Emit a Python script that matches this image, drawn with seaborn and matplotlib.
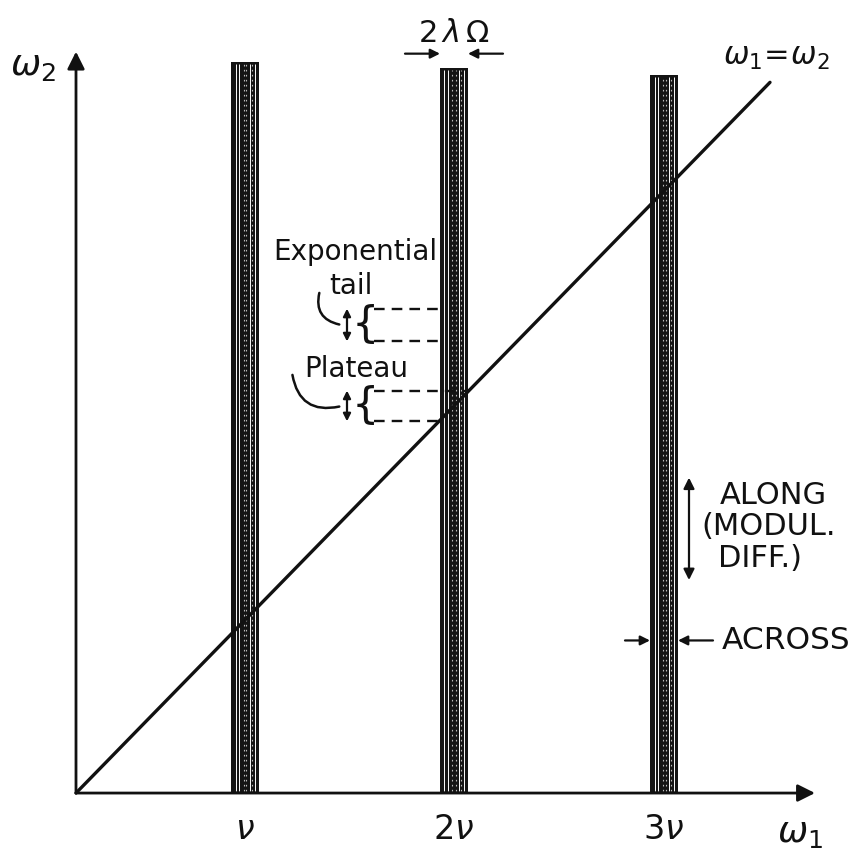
import numpy as np
import pandas as pd
import matplotlib
matplotlib.use("Agg")
import matplotlib.pyplot as plt
import seaborn as sns
from matplotlib.patches import FancyArrowPatch

# ---- data (schematic units) ----
resonance_labels = [r"$\nu$", r"$2\nu$", r"$3\nu$"]
resonance_omega1 = [1.69, 3.78, 5.88]
band_tops = [7.14, 7.08, 7.01]
band_halfwidth = 0.14          # lambda * Omega
diag_omega1 = [0.0, 6.94]
diag_omega2 = [0.0, 6.94]
x_axis_end = 7.39
y_axis_end = 7.24

sns.set_theme(style="white")
plt.rcParams['font.family'] = ['DejaVu Sans']
plt.rcParams['mathtext.fontset'] = 'dejavusans'

fig = plt.figure(figsize=(8.65, 8.55), dpi=100)
ax = fig.add_axes([0, 0, 1, 1])
ax.set_xlim(-0.76, 7.89)
ax.set_ylim(-0.605, 7.744)
ax.axis('off')

INK = '#111111'

# ---- resonance bands ----
gap_solid = [-0.095, -0.06, 0.045, 0.095]
gap_dashed = [-0.015, 0.015, 0.07]
for c, top in zip(resonance_omega1, band_tops):
    ax.bar(c, top, width=2 * band_halfwidth, bottom=0, color='#141414',
           edgecolor='none', zorder=2)
    for g in gap_solid:
        ax.vlines(c + g, 0.02, top - 0.02, colors='white', lw=0.7, zorder=3)
    for g in gap_dashed:
        ax.vlines(c + g, 0.02, top - 0.02, colors='#bbbbbb', lw=0.8,
                  linestyles=(0, (1.5, 3)), zorder=3)

# ---- diagonal omega1 = omega2 ----
diag = pd.DataFrame({'w1': diag_omega1, 'w2': diag_omega2})
sns.lineplot(data=diag, x='w1', y='w2', ax=ax, color=INK, lw=2.4, zorder=4)

# ---- axes with arrows ----
ax.annotate('', xy=(x_axis_end, 0), xytext=(0, 0),
            arrowprops=dict(arrowstyle='-|>', lw=2.0, color=INK,
                            mutation_scale=26, shrinkA=0, shrinkB=0), zorder=5)
ax.annotate('', xy=(0, y_axis_end), xytext=(0, 0),
            arrowprops=dict(arrowstyle='-|>', lw=2.0, color=INK,
                            mutation_scale=26, shrinkA=0, shrinkB=0), zorder=5)

ax.text(-0.43, 7.10, r"$\omega_2$", fontsize=26, ha='center', va='center', color=INK)
ax.text(7.24, -0.39, r"$\omega_1$", fontsize=26, ha='center', va='center', color=INK)
for c, lab in zip(resonance_omega1, resonance_labels):
    ax.text(c, -0.36, lab, fontsize=24, ha='center', va='center', color=INK)
ax.text(7.00, 7.18, r"$\omega_1\!=\!\omega_2$", fontsize=22, ha='center',
        va='center', color=INK)

# ---- band width 2 lambda Omega ----
c2 = resonance_omega1[1]
ax.text(c2, 7.42, r"$2\,\lambda\,\Omega$", fontsize=22, ha='center', va='center', color=INK)
for x0, x1 in [(c2 - 0.49, c2 - band_halfwidth), (c2 + 0.49, c2 + band_halfwidth)]:
    ax.annotate('', xy=(x1, 7.22), xytext=(x0, 7.22),
                arrowprops=dict(arrowstyle='-|>', lw=1.6, color=INK,
                                mutation_scale=14, shrinkA=0, shrinkB=0))

# ---- exponential tail / plateau annotations ----
fs = 20
ax.text(2.79, 5.28, "Exponential", fontsize=fs, ha='center', va='center', color=INK)
ax.text(2.75, 4.95, "tail", fontsize=fs, ha='center', va='center', color=INK)
ax.text(2.80, 4.14, "Plateau", fontsize=fs, ha='center', va='center', color=INK)

band_left = c2 - band_halfwidth
for (y_hi, y_lo, start, end, dash_end_hi) in [
        (4.73, 4.41, (2.44, 4.91), (2.66, 4.57), band_left),
        (3.93, 3.63, (2.16, 4.11), (2.66, 3.78), c2 + band_halfwidth)]:
    # curved pointer
    ax.add_patch(FancyArrowPatch(start, end, connectionstyle='arc3,rad=0.55',
                                 arrowstyle='-', lw=1.8, color=INK, zorder=6))
    # small double arrow
    ax.annotate('', xy=(2.71, y_hi), xytext=(2.71, y_lo),
                arrowprops=dict(arrowstyle='<|-|>', lw=1.6, color=INK,
                                mutation_scale=11, shrinkA=0, shrinkB=0))
    # brace
    ax.text(2.89, (y_hi + y_lo) / 2, "{", fontsize=31, ha='center', va='center',
            color=INK)
    # dashed guides
    ax.hlines(y_hi, 2.98, dash_end_hi, colors=INK, lw=1.7,
              linestyles=(0, (4.5, 3)), zorder=5)
    ax.hlines(y_lo, 2.98, band_left, colors=INK, lw=1.7,
              linestyles=(0, (4.5, 3)), zorder=5)

# ---- along / across ----
c3 = resonance_omega1[2]
ax.annotate('', xy=(6.13, 3.08), xytext=(6.13, 2.08),
            arrowprops=dict(arrowstyle='<|-|>', lw=1.6, color=INK,
                            mutation_scale=16, shrinkA=0, shrinkB=0))
ax.text(6.44, 2.91, "ALONG", fontsize=22, ha='left', va='center', color=INK)
ax.text(6.25, 2.60, "(MODUL.", fontsize=22, ha='left', va='center', color=INK)
ax.text(6.42, 2.29, "DIFF.)", fontsize=22, ha='left', va='center', color=INK)

for x0, x1 in [(5.49, c3 - band_halfwidth), (6.37, c3 + band_halfwidth)]:
    ax.annotate('', xy=(x1, 1.49), xytext=(x0, 1.49),
                arrowprops=dict(arrowstyle='-|>', lw=1.6, color=INK,
                                mutation_scale=14, shrinkA=0, shrinkB=0))
ax.text(6.46, 1.49, "ACROSS", fontsize=22.5, ha='left', va='center', color=INK)

fig.savefig("out.png", dpi=100, facecolor='white')
